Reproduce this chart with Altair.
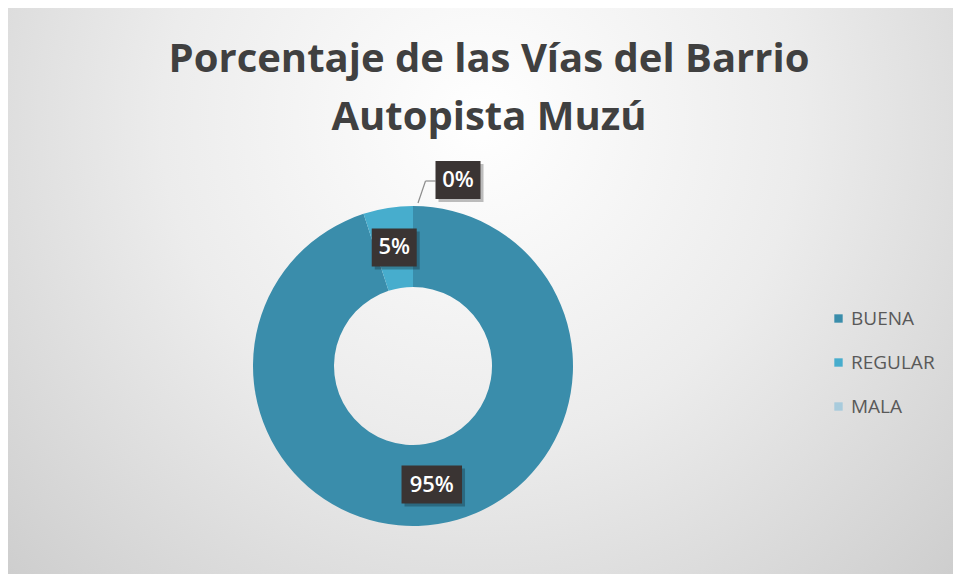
import altair as alt
import pandas as pd

CATS = ["BUENA", "REGULAR", "MALA"]
VALUES = [95, 5, 0]
COLORS = ["#3A8DAB", "#47ADCD", "#A8CBDC"]
TITLE_LINES = ["Porcentaje de las Vías del Barrio", "Autopista Muzú"]

W, H = 945, 566
CX, CY = 405, 358
R_OUT, R_IN = 160, 79
R_LAB = 120

df = pd.DataFrame({"cat": CATS, "value": VALUES, "idx": list(range(len(CATS)))})

xs = alt.Scale(domain=[0, W], nice=False, zero=False)
ys = alt.Scale(domain=[0, H], nice=False, zero=False, reverse=True)

one = pd.DataFrame({"a": [0]})

bg = alt.Chart(one).mark_rect(
    fill={
        "gradient": "radial",
        "x1": 0.5, "y1": 0.32, "x2": 0.5, "y2": 0.32,
        "r1": 0, "r2": 0.75,
        "stops": [
            {"offset": 0, "color": "#ffffff"},
            {"offset": 0.45, "color": "#ececec"},
            {"offset": 1, "color": "#c9c9c9"},
        ],
    }
).encode(x=alt.value(0), x2=alt.value(W), y=alt.value(0), y2=alt.value(H))

arc = alt.Chart(df).mark_arc(innerRadius=R_IN, outerRadius=R_OUT).encode(
    theta=alt.Theta("value:Q", stack=True),
    color=alt.Color(
        "cat:N",
        scale=alt.Scale(domain=CATS, range=COLORS),
        sort=CATS,
        legend=alt.Legend(
            orient="none", legendX=821, legendY=301, title=None,
            symbolType="square", symbolSize=70, symbolStrokeWidth=0,
            labelFont="Open Sans", labelFontSize=19, labelColor="#595959",
            rowPadding=24, labelOffset=3, padding=0,
        ),
    ),
    order=alt.Order("idx:Q"),
    x=alt.value(CX),
    y=alt.value(CY),
)

lab = (
    alt.Chart(df)
    .transform_window(cum="sum(value)", sort=[alt.SortField("idx")], frame=[None, 0])
    .transform_joinaggregate(total="sum(value)")
    .transform_calculate(
        mid="2*PI*(datum.cum - datum.value/2)/datum.total",
        label="format(datum.value/datum.total, '.0%')",
        cx=f"datum.value > 0 ? {CX} + {R_LAB}*sin(datum.mid) : {CX} + 186*sin(datum.mid) + 45",
        cy=f"datum.value > 0 ? {CY} - {R_LAB}*cos(datum.mid) : {CY} - 186*cos(datum.mid)",
        w="14 + 15.5*length(datum.label)",
        bx1="datum.cx - datum.w/2",
        bx2="datum.cx + datum.w/2",
        by1="datum.cy - 19",
        by2="datum.cy + 19",
        sx1="datum.bx1 + 3",
        sx2="datum.bx2 + 3",
        sy1="datum.by1 + 3",
        sy2="datum.by2 + 3",
        lx0=f"{CX} + 163*sin(datum.mid) + 5",
        ly0=f"{CY} - 163*cos(datum.mid)",
        lx1="datum.bx1 - 10",
        ly1="datum.cy + 1",
        lx2="datum.bx1",
    )
)

leader1 = lab.transform_filter("datum.value == 0").mark_rule(color="#8c8c8c", strokeWidth=1.2).encode(
    x=alt.X("lx0:Q", scale=xs, axis=None), x2="lx1:Q",
    y=alt.Y("ly0:Q", scale=ys, axis=None), y2="ly1:Q",
)
leader2 = lab.transform_filter("datum.value == 0").mark_rule(color="#8c8c8c", strokeWidth=1.2).encode(
    x=alt.X("lx1:Q", scale=xs, axis=None), x2="lx2:Q",
    y=alt.Y("ly1:Q", scale=ys, axis=None), y2="ly1:Q",
)
shadow = lab.mark_rect(color="#000000", opacity=0.25).encode(
    x=alt.X("sx1:Q", scale=xs, axis=None), x2="sx2:Q",
    y=alt.Y("sy1:Q", scale=ys, axis=None), y2="sy2:Q",
)
box = lab.mark_rect(color="#3a3433").encode(
    x=alt.X("bx1:Q", scale=xs, axis=None), x2="bx2:Q",
    y=alt.Y("by1:Q", scale=ys, axis=None), y2="by2:Q",
)
txt = lab.mark_text(font="Open Sans", fontSize=22, fontWeight=600, color="#ffffff", align="center", baseline="middle").encode(
    x=alt.X("cx:Q", scale=xs, axis=None),
    y=alt.Y("cy:Q", scale=ys, axis=None),
    text="label:N",
)

t1 = alt.Chart(pd.DataFrame({"t": [TITLE_LINES[0]]})).mark_text(
    font="Open Sans", fontSize=40, fontWeight="bold", color="#404040", align="center", baseline="alphabetic"
).encode(x=alt.value(481), y=alt.value(64), text="t:N")
t2 = alt.Chart(pd.DataFrame({"t": [TITLE_LINES[1]]})).mark_text(
    font="Open Sans", fontSize=40, fontWeight="bold", color="#404040", align="center", baseline="alphabetic"
).encode(x=alt.value(481), y=alt.value(122), text="t:N")

chart = (
    alt.layer(bg, arc, leader1, leader2, shadow, box, txt, t1, t2)
    .properties(width=W, height=H, padding=0, autosize=alt.AutoSizeParams(type="none"), background="#ffffff")
    .configure_view(stroke=None)
)

chart.save("out.html", embed_options={"renderer": "svg", "actions": False})
